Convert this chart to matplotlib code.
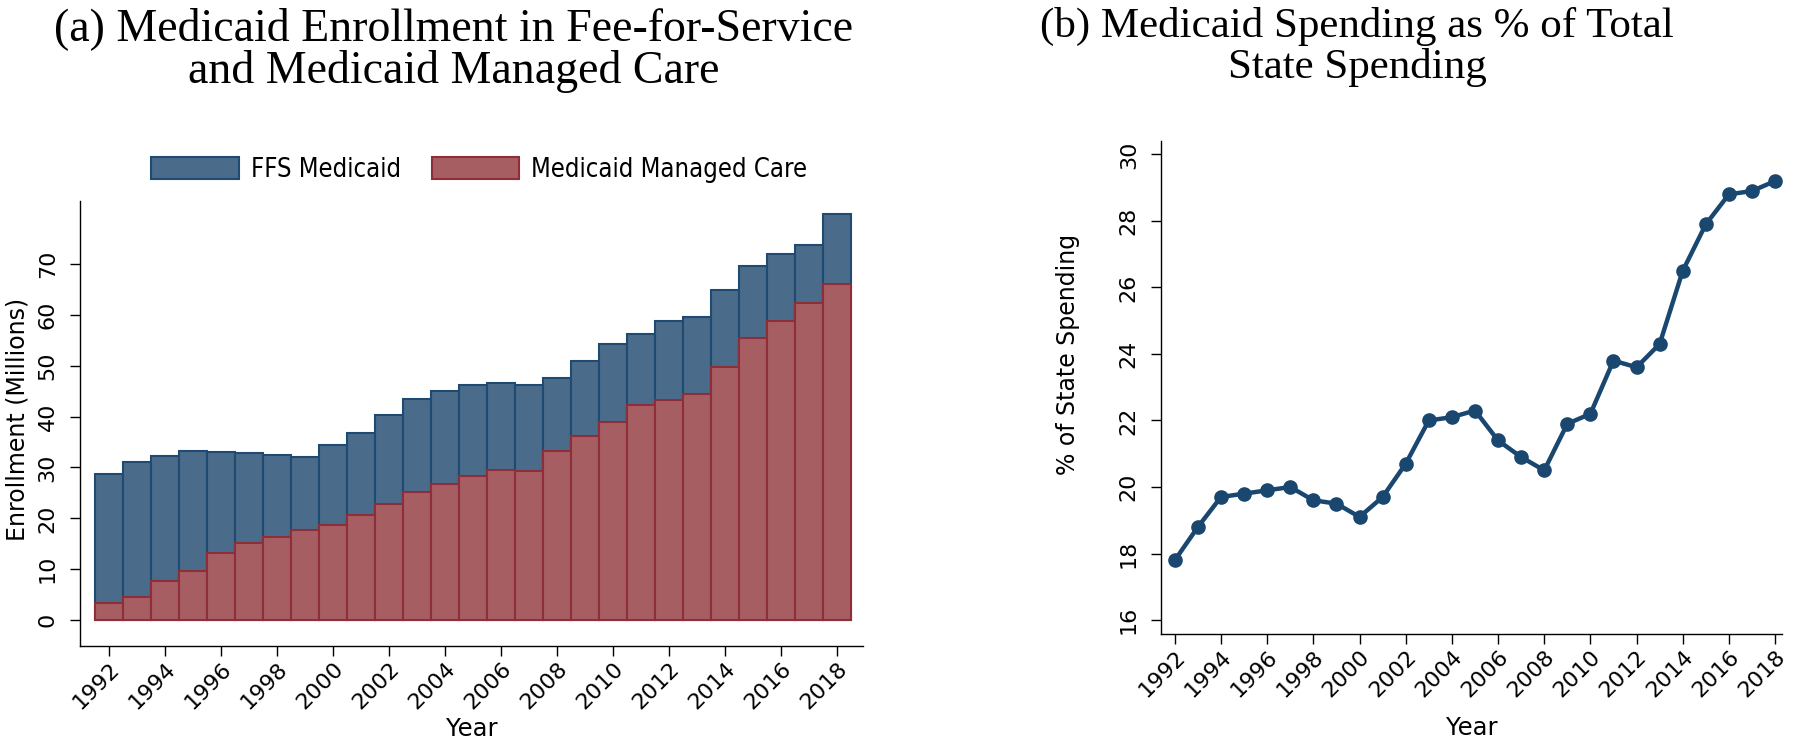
import matplotlib
matplotlib.use("Agg")
import matplotlib.pyplot as plt
import matplotlib.transforms as mtransforms
import numpy as np

years = list(range(1992, 2019))
total_enrollment = [28.8, 31.1, 32.3, 33.3, 33.1, 32.9, 32.4, 32.0, 34.4, 36.8,
                    40.4, 43.4, 45.1, 46.2, 46.6, 46.3, 47.6, 50.9, 54.3, 56.2,
                    58.8, 59.6, 64.9, 69.7, 72.0, 73.8, 79.8]
managed_care = [3.4, 4.6, 7.6, 9.6, 13.1, 15.1, 16.4, 17.7, 18.6, 20.6,
                22.9, 25.2, 26.8, 28.4, 29.6, 29.4, 33.3, 36.1, 38.9, 42.3,
                43.3, 44.4, 49.8, 55.4, 58.8, 62.3, 66.0]
spending_share = [17.8, 18.8, 19.7, 19.8, 19.9, 20.0, 19.6, 19.5, 19.1, 19.7,
                  20.7, 22.0, 22.1, 22.3, 21.4, 20.9, 20.5, 21.9, 22.2, 23.8,
                  23.6, 24.3, 26.5, 27.9, 28.8, 28.9, 29.2]
xtick_years = list(range(1992, 2019, 2))
left_yticks = [0, 10, 20, 30, 40, 50, 60, 70]
right_yticks = [16, 18, 20, 22, 24, 26, 28, 30]

BLUE_FILL = "#4A6B8A"
BLUE_EDGE = "#1F4A72"
RED_FILL = "#A65E63"
RED_EDGE = "#8E2E38"
LINE = "#1A476F"

SERIF = ["Liberation Serif", "DejaVu Serif"]
TICK_FS = 16
LABEL_FS = 17

fig = plt.figure(figsize=(18, 7.45), dpi=100)

# ---------- left panel ----------
axL = fig.add_axes([0.0444, 0.1329, 0.435, 0.5973])
axL.bar(years, total_enrollment, width=1.0, color=BLUE_FILL, edgecolor=BLUE_EDGE,
        linewidth=1.5, label="FFS Medicaid")
axL.bar(years, managed_care, width=1.0, color=RED_FILL, edgecolor=RED_EDGE,
        linewidth=1.5, label="Medicaid Managed Care")
axL.set_xlim(1990.96, 2018.93)
axL.set_ylim(-5.1, 82.4)
axL.set_yticks(left_yticks)
axL.set_yticklabels([str(v) for v in left_yticks], rotation=90, va="center",
                    fontsize=TICK_FS)
axL.set_ylabel("Enrollment (Millions)", fontsize=LABEL_FS)
axL.yaxis.set_label_coords(-0.064, 0.51)
axL.set_xlabel("Year", fontsize=17.5)
axL.xaxis.set_label_coords(0.5, -0.16)
leg = axL.legend(loc="center", bbox_to_anchor=(0.51, 1.07), ncol=2, frameon=False,
                 prop={"size": 18.4, "stretch": "condensed"}, handlelength=3.44,
                 handleheight=0.96, handletextpad=0.46, columnspacing=1.2)

# ---------- right panel ----------
axR = fig.add_axes([0.645, 0.149, 0.345, 0.662])
axR.plot(years, spending_share, color=LINE, linewidth=3.2, marker="o",
         markersize=9.5, markerfacecolor=LINE, markeredgecolor=LINE)
axR.set_xlim(1991.4, 2018.3)
axR.set_ylim(15.58, 30.41)
axR.set_yticks(right_yticks)
axR.set_yticklabels([str(v) for v in right_yticks], rotation=90, va="center",
                    fontsize=TICK_FS)
axR.set_ylabel("% of State Spending", fontsize=LABEL_FS)
axR.yaxis.set_label_coords(-0.130, 0.566)
axR.set_xlabel("Year", fontsize=17.5)
axR.xaxis.set_label_coords(0.5, -0.166)

shift = mtransforms.ScaledTranslation(-6 / 100, 0, fig.dpi_scale_trans)
for ax in (axL, axR):
    ax.set_xticks(xtick_years)
    ax.set_xticklabels([str(y) for y in xtick_years], rotation=45, ha="right",
                       rotation_mode="anchor", fontsize=TICK_FS)
    for lab in ax.get_xticklabels():
        lab.set_transform(lab.get_transform() + shift)
    ax.spines["top"].set_visible(False)
    ax.spines["right"].set_visible(False)
    ax.spines["left"].set_linewidth(1.0)
    ax.spines["bottom"].set_linewidth(1.0)
    ax.tick_params(axis="both", length=7, width=1.0, direction="out")
    ax.tick_params(axis="y", pad=9)
    ax.tick_params(axis="x", pad=2)

fig.text(0.252, 0.991, "(a) Medicaid Enrollment in Fee-for-Service\nand Medicaid Managed Care",
         ha="center", va="top", fontsize=33, family=SERIF, linespacing=1.02)
fig.text(0.754, 0.991, "(b) Medicaid Spending as % of Total\nState Spending",
         ha="center", va="top", fontsize=31, family=SERIF, linespacing=1.08)

fig.savefig("out.png", dpi=100)
